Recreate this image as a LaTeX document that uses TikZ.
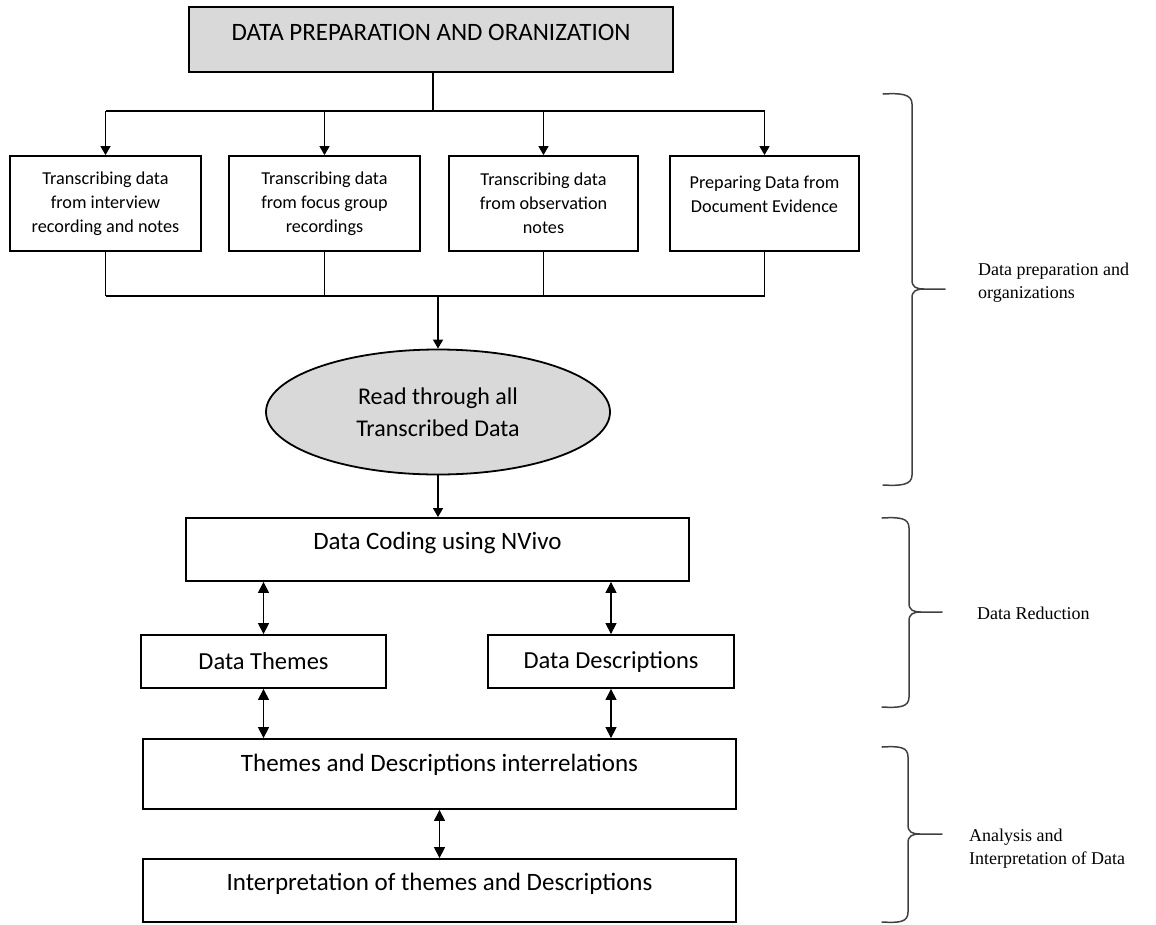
\documentclass[tikz,border=0pt]{standalone}
\usepackage{fontspec}
\setmainfont{Liberation Serif}
\newfontfamily\boxfont{Carlito}
\usetikzlibrary{arrows.meta,shapes.geometric}

\definecolor{boxgray}{HTML}{D9D9D9}

% right-hand curly brace: x of free ends, x of spine, x of tip, top y, tip y, bottom y
\newcommand{\sidebrace}[6]{%
  \draw[brace] (#1,#4) .. controls (#1+18,#4-1) and (#2,#4) .. (#2,#4+10)
    -- (#2,#5-9) .. controls (#2,#5-2) and (#2+4,#5) .. (#2+12,#5) -- (#3,#5)
    (#2+12,#5) .. controls (#2+4,#5) and (#2,#5+2) .. (#2,#5+9)
    -- (#2,#6-10) .. controls (#2,#6) and (#1+18,#6+1) .. (#1,#6);}

\begin{document}
\begin{tikzpicture}[x=1pt,y=-1pt,
  box/.style={draw, line width=1.8pt, rectangle, inner sep=0pt},
  btext/.style={inner sep=0pt, align=center, font=\boxfont\fontsize{25}{30}\selectfont},
  stext/.style={align=center, font=\boxfont\fontsize{18.2}{24}\selectfont},
  conn/.style={line width=1.2pt},
  arr/.style={conn, -{Triangle[width=10pt,length=9pt]}},
  darr/.style={conn, {Triangle[width=11pt,length=11pt]}-{Triangle[width=11pt,length=11pt]}},
  brace/.style={line width=1.5pt, black!75, line cap=round},
  side/.style={inner sep=0pt, anchor=west, align=left, font=\fontsize{18}{23}\selectfont}
]
\useasboundingbox (0,0) rectangle (1156,924);

% heading
\node[box, fill=boxgray, minimum width=484pt, minimum height=65pt] (top) at (431,39.5) {};
\node[btext] (top-t) at (431,32) {DATA PREPARATION AND ORANIZATION};

% four sources of data
\node[box, stext, minimum width=191pt, minimum height=95pt] (b1) at (105.5,203.5)
  {Transcribing data\\from interview\\recording and notes};
\node[box, stext, minimum width=191pt, minimum height=95pt] (b2) at (324.5,203.5)
  {Transcribing data\\from focus group\\recordings};
\node[box, stext, minimum width=189pt, minimum height=95pt] (b3) at (543.5,203.5)
  {Transcribing data\\from observation\\notes};
\node[box, minimum width=189pt, minimum height=95pt] (b4) at (764.5,203.5) {};
\node[stext, inner sep=0pt] (b4-t) at (764.5,194.5) {Preparing Data from\\Document Evidence};

% fan-out from the heading
\coordinate (split) at (433,111);
\draw[conn] (top.south -| split) -- (split);
\draw[conn] (b1.north |- split) -- (b4.north |- split);
\foreach \b in {b1,b2,b3,b4} \draw[arr] (\b.north |- split) -- (\b.north);

% reading step
\node[ellipse, draw, line width=1.8pt, fill=boxgray, minimum width=344pt, minimum height=125pt,
      inner sep=0pt, align=center, font=\boxfont\fontsize{24}{32}\selectfont]
      (read) at (438,412) {Read through all\\Transcribed Data};

% fan-in to the reading step
\coordinate (merge) at (437,296);
\foreach \b in {b1,b2,b3,b4} \draw[conn] (\b.south) -- (\b.south |- merge);
\draw[conn] (b1.south |- merge) -- (b4.south |- merge);
\draw[arr] (read.north |- merge) -- (read.north);

% coding
\node[box, minimum width=503pt, minimum height=63pt] (code) at (437.5,549.5) {};
\node[btext] (code-t) at (437.5,543) {Data Coding using NVivo};
\draw[arr] (read.south) -- (read.south |- code.north);

% themes and descriptions
\node[box, btext, minimum width=245pt, minimum height=53pt, font=\boxfont\fontsize{24.5}{30}\selectfont]
  (themes) at (263.5,661.5) {Data Themes};
\node[box, btext, minimum width=246pt, minimum height=53pt, font=\boxfont\fontsize{24.5}{30}\selectfont]
  (desc) at (611,661.5) {Data Descriptions};
\draw[darr] (themes.north) -- (themes.north |- code.south);
\draw[darr] (desc.north) -- (desc.north |- code.south);

% interrelations and interpretation
\node[box, minimum width=593pt, minimum height=70pt] (rel) at (439.5,774) {};
\node[btext] (rel-t) at (439.5,765) {Themes and Descriptions interrelations};
\draw[darr] (themes.south) -- (themes.south |- rel.north);
\draw[darr] (desc.south) -- (desc.south |- rel.north);

\node[box, minimum width=593pt, minimum height=63pt] (interp) at (439.5,890.5) {};
\node[btext] (interp-t) at (439.5,884) {Interpretation of themes and Descriptions};
\draw[darr] (rel.south) -- (interp.north);

% phase braces and their captions
\sidebrace{883}{912}{945}{94}{289}{485}
\sidebrace{882}{909}{942}{518}{612}{707}
\sidebrace{882}{908}{942}{747}{834}{922}

\node[side] (phase1) at (978,282.5) {Data preparation and\\organizations};
\node[side] (phase2) at (977,613) {Data Reduction};
\node[side] (phase3) at (969,848.5) {Analysis and\\Interpretation of Data};
\end{tikzpicture}
\end{document}
